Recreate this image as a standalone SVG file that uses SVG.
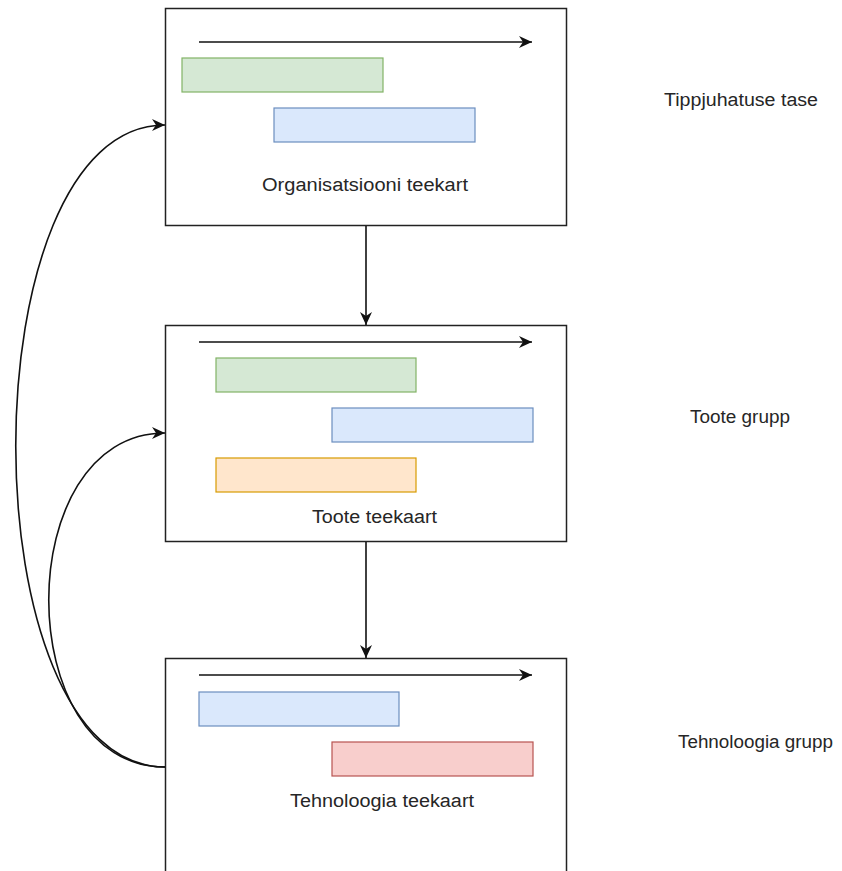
<svg xmlns="http://www.w3.org/2000/svg" width="842" height="871" viewBox="0 0 842 871">
<defs>
<marker id="ah" markerUnits="userSpaceOnUse" markerWidth="15" markerHeight="13" refX="13" refY="6.5" orient="auto" overflow="visible">
<path d="M0,0.5 L13,6.5 L0,12.5 L4,6.5 Z" fill="#111"/>
</marker>
<style>
.box{fill:#fff;stroke:#222;stroke-width:1.5}
.ln{fill:none;stroke:#111;stroke-width:1.6}
.g{fill:#d5e8d4;stroke:#82b366;stroke-width:1.2}
.b{fill:#dae8fc;stroke:#6c8ebf;stroke-width:1.2}
.o{fill:#ffe6cc;stroke:#d79b00;stroke-width:1.2}
.r{fill:#f8cecc;stroke:#b85450;stroke-width:1.2}
text{font-family:"Liberation Sans",Arial,sans-serif;font-size:18px;fill:#262626}
</style>
</defs>
<rect width="842" height="871" fill="#fff"/>
<g id="org">
<rect class="box" x="165.5" y="8.5" width="401" height="217"/>
<line class="ln" x1="199" y1="42" x2="532" y2="42" marker-end="url(#ah)"/>
<rect class="g" x="182" y="58" width="201" height="34"/>
<rect class="b" x="274" y="108" width="201" height="34"/>
<text x="262" y="191" textLength="206" lengthAdjust="spacingAndGlyphs">Organisatsiooni teekart</text>
</g>
<g id="toote">
<rect class="box" x="165.5" y="325.5" width="401" height="216"/>
<line class="ln" x1="199" y1="342" x2="532" y2="342" marker-end="url(#ah)"/>
<rect class="g" x="216" y="358" width="200" height="34"/>
<rect class="b" x="332" y="408" width="201" height="34"/>
<rect class="o" x="216" y="458" width="200" height="34"/>
<text x="312" y="523" textLength="125" lengthAdjust="spacingAndGlyphs">Toote teekaart</text>
</g>
<g id="tehno">
<rect class="box" x="165.5" y="658.5" width="401" height="220"/>
<line class="ln" x1="199" y1="675" x2="532" y2="675" marker-end="url(#ah)"/>
<rect class="b" x="199" y="692" width="200" height="34"/>
<rect class="r" x="332" y="742" width="201" height="34"/>
<text x="290" y="807" textLength="184" lengthAdjust="spacingAndGlyphs">Tehnoloogia teekaart</text>
</g>
<g id="labels">
<text x="664" y="106" textLength="154" lengthAdjust="spacingAndGlyphs">Tippjuhatuse tase</text>
<text x="690" y="423" textLength="100" lengthAdjust="spacingAndGlyphs">Toote grupp</text>
<text x="678" y="748" textLength="155" lengthAdjust="spacingAndGlyphs">Tehnoloogia grupp</text>
</g>
<g id="connectors">
<line class="ln" x1="366" y1="226" x2="366" y2="325" marker-end="url(#ah)"/>
<line class="ln" x1="366" y1="542" x2="366" y2="658" marker-end="url(#ah)"/>
<path class="ln" d="M165,767 C-34,767 -34,125 165,125" marker-end="url(#ah)"/>
<path class="ln" d="M165,767 C10,767 10,433 165,433" marker-end="url(#ah)"/>
</g>
</svg>
